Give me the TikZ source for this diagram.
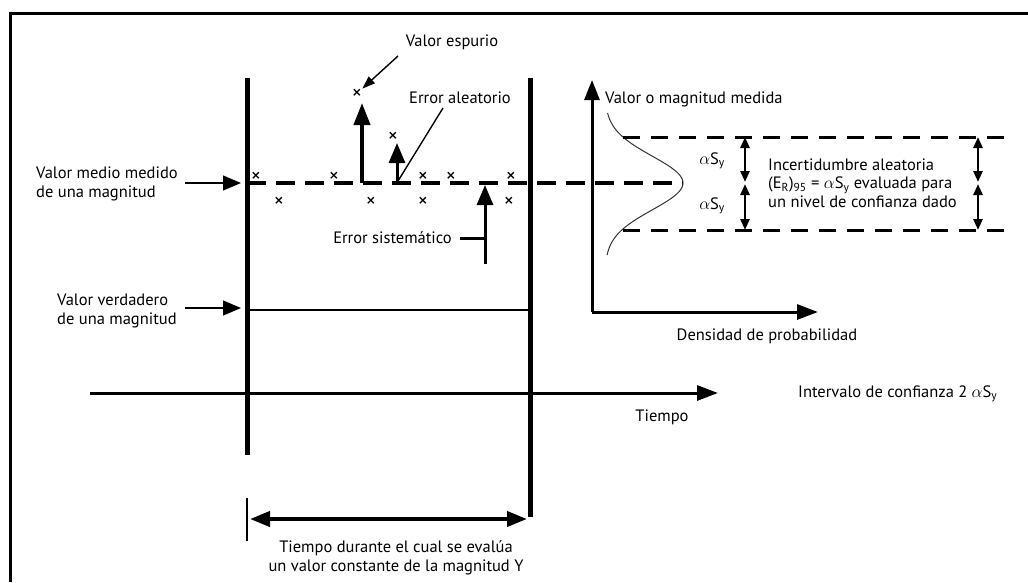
\documentclass[tikz,border=0pt]{standalone}
\usepackage{fontspec}
\setmainfont{PT Sans}
\usetikzlibrary{arrows.meta,positioning}

\tikzset{
  lbl/.style={font=\fontsize{16.5}{18.5}\selectfont, inner sep=0pt},
  cross/.style={font=\fontsize{20}{20}\selectfont, inner sep=0pt},
  bar/.style={line width=5pt},
  meanline/.style={line width=4pt, dash pattern=on 19pt off 10pt},
  bandline/.style={line width=3pt, dash pattern=on 17pt off 11pt},
  bigtip/.style={-{Triangle[length=22pt,width=16pt]}},
  pointer/.style={line width=1.2pt, -{Triangle[length=18pt,width=15pt]}},
  dimarrow/.style={line width=2.5pt, {Triangle[length=11pt,width=9pt]}-{Triangle[length=11pt,width=9pt]}}
}

\begin{document}
\begin{tikzpicture}[x=1pt, y=-1pt]
  \useasboundingbox (0,0) rectangle (1028,582);
  \draw[line width=3pt] (10,582) -- (10,13) -- (1028,13);

  % time window bars
  \coordinate (lt) at (247,78);  \coordinate (lb) at (247,455);
  \coordinate (rt) at (530,78);  \coordinate (rb) at (530,517);
  \draw[bar] (lt) -- (lb);
  \draw[bar] (rt) -- (rb);

  % mean and true value
  \coordinate (m0) at (247,183); \coordinate (m1) at (683,183);
  \coordinate (v0) at (247,310); \coordinate (v1) at (530,310);
  \draw[meanline] (m0) -- (m1);
  \draw[line width=2pt] (v0) -- (v1);

  \node[lbl, anchor=west, align=left] (medio) at (36,184) {Valor medio medido\\de una magnitud};
  \node[lbl, anchor=west, align=left] (verdad) at (57,311) {Valor verdadero\\de una magnitud};
  \coordinate (pm) at (185,183); \coordinate (pv) at (185,308);
  \draw[pointer] (pm) -- (241,183);
  \draw[pointer] (pv) -- (241,308);

  % readings
  \foreach \px/\py [count=\i] in {256/177, 334/177, 423/177, 451/177, 511/177,
                                  279/202, 371/202, 423/202, 509/202, 357/94, 393/137}
    \node[cross] (x\i) at (\px,\py) {×};

  % errors
  \coordinate (ra0) at (362,183); \coordinate (ra1) at (362,103);
  \coordinate (rb0) at (397,183); \coordinate (rb1) at (397,143);
  \draw[line width=4pt, bigtip] (ra0) -- (ra1);
  \draw[line width=3pt, -{Triangle[length=20pt,width=16pt]}] (rb0) -- (rb1);

  \node[lbl] (aleat) at (460,98) {Error aleatorio};
  \draw[line width=1.4pt] (443,108) -- (398,181);

  \node[lbl] (espur) at (452,42) {Valor espurio};
  \draw[line width=1.4pt, -{Triangle[length=13pt,width=9pt]}] (398,56) -- (x10.north east);

  \coordinate (se0) at (485,264); \coordinate (se1) at (485,185);
  \draw[line width=3pt, -{Triangle[length=20pt,width=16pt]}] (se0) -- (se1);
  \node[lbl, anchor=east] (sistem) at (452,238) {Error sistemático};
  \draw[line width=3pt] (460,238) -- (485,238);

  % time axis
  \coordinate (t0) at (90,393); \coordinate (t1) at (718,393);
  \draw[line width=3pt, -{Triangle[length=21pt,width=15pt]}] (t0) -- (t1);
  \node[lbl] (tiempo) at (662,417) {Tiempo};

  % duration
  \draw[line width=2pt] (247,498) -- (247,541);
  \coordinate (d0) at (250,519); \coordinate (d1) at (527,519);
  \draw[line width=4pt, {Triangle[length=20pt,width=15pt]}-{Triangle[length=20pt,width=15pt]}] (d0) -- (d1);
  \node[lbl, align=center] (durante) at (396,558) {Tiempo durante el cual se evalúa\\un valor constante de la magnitud Y};

  % probability density
  \coordinate (o) at (592,312);
  \draw[line width=3pt, -{Triangle[length=20pt,width=15pt]}] (o) -- (592,80);
  \draw[line width=3pt, -{Triangle[length=21pt,width=15pt]}] (o) -- (818,312);
  \node[lbl, anchor=west] (medida) at (605,99) {Valor o magnitud medida};
  \node[lbl] (densid) at (767,336) {Densidad de probabilidad};
  \draw[line width=1pt, black!80, samples=90, domain=-70:72] plot ({605+78*exp(-(\x*\x)/1440)},{183+\x});

  \draw[bandline] (623,137) -- (1006,137);
  \draw[bandline] (623,230) -- (1006,230);
  \draw[dimarrow] (745,137) -- (745,182);
  \draw[dimarrow] (745,184) -- (745,230);
  \draw[dimarrow] (978,137) -- (978,182);
  \draw[dimarrow] (978,184) -- (978,230);
  \node[lbl] (as1) at (712,161) {$\alpha$S\textsubscript{y}};
  \node[lbl] (as2) at (712,206) {$\alpha$S\textsubscript{y}};
  \node[lbl, anchor=west, align=left] (incert) at (768,183)
    {Incertidumbre aleatoria\\(E\textsubscript{R})\textsubscript{95} = $\alpha$S\textsubscript{y} evaluada para\\un nivel de confianza dado};

  \node[lbl, anchor=west] (interv) at (798,394) {Intervalo de confianza 2 $\alpha$S\textsubscript{y}};
\end{tikzpicture}
\end{document}
